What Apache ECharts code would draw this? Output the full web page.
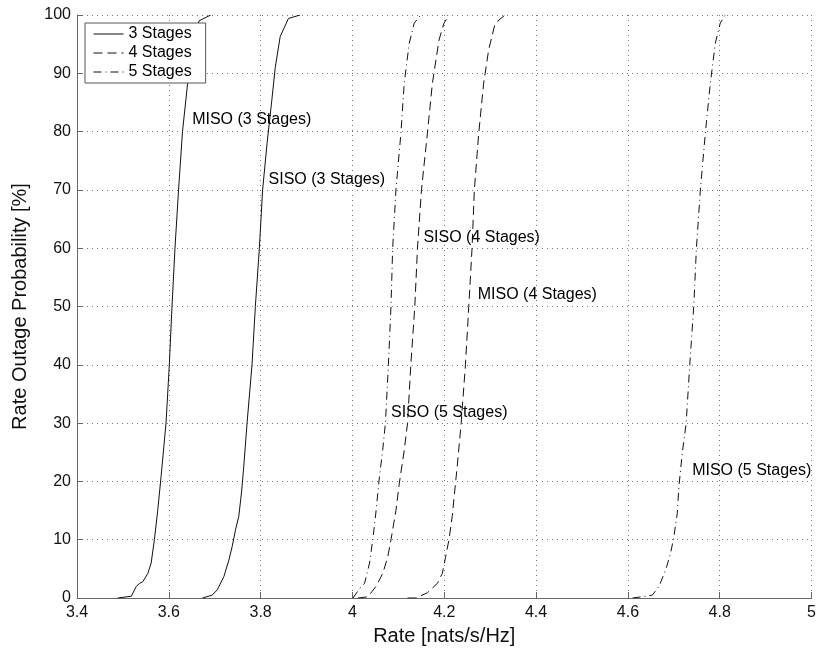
<!DOCTYPE html>
<html>
<head>
<meta charset="utf-8">
<script src="https://cdn.jsdelivr.net/npm/echarts@6/dist/echarts.min.js"></script>
<style>
html,body{margin:0;padding:0;background:#fff;}
#chart{width:819px;height:654px;}
</style>
</head>
<body>
<div id="chart"></div>
<script>
// ---- Data ----
var xTicks = [3.4, 3.6, 3.8, 4.0, 4.2, 4.4, 4.6, 4.8, 5.0];
var yTicks = [0, 10, 20, 30, 40, 50, 60, 70, 80, 90, 100];

var miso3Rate = [3.4886, 3.5183, 3.5291, 3.5362, 3.5434, 3.5542, 3.5615, 3.5686, 3.5758, 3.5831, 3.5939, 3.6011, 3.6069, 3.6134, 3.6212, 3.6298, 3.6406, 3.6530, 3.6659, 3.6912];
var miso3Prob = [0, 0.3, 2, 2.5, 2.8, 4.2, 6, 10, 15, 20.8, 30, 40, 50, 60, 70, 80, 88, 95, 99, 100];

var siso3Rate = [3.6731, 3.6947, 3.7055, 3.7200, 3.7308, 3.7379, 3.7453, 3.7524, 3.7582, 3.7632, 3.7704, 3.7812, 3.7885, 3.7972, 3.8043, 3.8140, 3.8244, 3.8318, 3.8426, 3.8605, 3.8859];
var siso3Prob = [0, 0.5, 1.4, 3.7, 6.5, 8.8, 11.7, 14, 18, 22.5, 30, 40, 50, 60, 70, 78, 85.4, 91, 96.3, 99.4, 100];

var siso4Rate = [4.0119, 4.0335, 4.0515, 4.0659, 4.0768, 4.0839, 4.0947, 4.1021, 4.1129, 4.1200, 4.1271, 4.1358, 4.1416, 4.1503, 4.1632, 4.1741, 4.1885, 4.1994, 4.2102];
var siso4Prob = [0, 0.2, 2, 4.2, 7, 10, 15, 19.7, 25.4, 30, 40, 50, 60, 70, 79.7, 88.3, 95.7, 98.6, 100];

var miso4Rate = [4.1200, 4.1379, 4.1632, 4.1849, 4.1957, 4.2028, 4.2102, 4.2173, 4.2223, 4.2281, 4.2368, 4.2461, 4.2534, 4.2605, 4.2655, 4.2750, 4.2858, 4.2966, 4.3109, 4.3325];
var miso4Prob = [0, 0, 0.9, 2.5, 4.2, 7, 10, 14, 18, 22.5, 30, 40, 50, 60, 70, 79.7, 88.3, 94, 98.6, 100];

var siso5Rate = [4.0011, 4.0190, 4.0264, 4.0372, 4.0443, 4.0515, 4.0588, 4.0659, 4.0718, 4.0783, 4.0839, 4.0876, 4.0947, 4.1055, 4.1128, 4.1236, 4.1345, 4.1488];
var siso5Prob = [0, 2, 2.5, 6, 10, 15, 20.8, 25.4, 30, 40, 50, 60, 70, 79.7, 88.3, 95.1, 98.6, 100];

var miso5Rate = [4.6102, 4.6389, 4.6534, 4.6677, 4.6822, 4.6930, 4.7001, 4.7075, 4.7109, 4.7183, 4.7269, 4.7347, 4.7434, 4.7492, 4.7578, 4.7686, 4.7795, 4.7903, 4.8011, 4.8119];
var miso5Prob = [0, 0.3, 0.5, 2, 4.8, 7.7, 10.5, 14.5, 19, 24.8, 30, 40, 50, 60, 70, 79.7, 88.3, 95.1, 98.6, 100];

var legendNames = ['3 Stages', '4 Stages', '5 Stages'];
var labelTexts = ['MISO (3 Stages)', 'SISO (3 Stages)', 'SISO (4 Stages)', 'MISO (4 Stages)', 'SISO (5 Stages)', 'MISO (5 Stages)'];
var labelRate = [3.6508, 3.8173, 4.1546, 4.2729, 4.0839, 4.7399];
var labelProb = [82.0, 71.7, 61.75, 52.0, 31.8, 21.9];

var xAxisTitle = 'Rate [nats/s/Hz]';
var yAxisTitle = 'Rate Outage Probability [%]';

// ---- Build ----
function pairs(xs, ys) { return xs.map(function (x, i) { return [x, ys[i]]; }); }

var FONT = '"Liberation Sans", Arial, Helvetica, sans-serif';
var lineColor = '#111';
var dashed = [9, 5];
var dashdot = [8, 4, 1, 4];

function lineSeries(name, data, type) {
  return {
    name: name, type: 'line', data: data, symbol: 'none', showSymbol: false,
    smooth: false, animation: false, silent: true,
    lineStyle: { color: lineColor, width: 1, type: type },
    itemStyle: { color: lineColor }
  };
}

var series = [
  lineSeries(legendNames[0], pairs(miso3Rate, miso3Prob), 'solid'),
  lineSeries(legendNames[1], pairs(siso4Rate, siso4Prob), dashed),
  lineSeries(legendNames[2], pairs(siso5Rate, siso5Prob), dashdot),
  lineSeries(legendNames[0], pairs(siso3Rate, siso3Prob), 'solid'),
  lineSeries(legendNames[1], pairs(miso4Rate, miso4Prob), dashed),
  lineSeries(legendNames[2], pairs(miso5Rate, miso5Prob), dashdot)
];

// annotation labels
series.push({
  name: 'annotations',
  type: 'scatter', silent: true, animation: false,
  symbolSize: 0,
  itemStyle: { opacity: 1, color: '#000' },
  data: labelTexts.map(function (t, i) { return { value: [labelRate[i], labelProb[i]], name: t }; }),
  label: {
    show: true, position: 'right', distance: 0,
    formatter: function (p) { return p.name; },
    color: '#000', fontFamily: FONT, fontSize: 16
  },
  z: 5
});

var chart = echarts.init(document.getElementById('chart'), null, { renderer: 'canvas' });
chart.setOption({
  animation: false,
  backgroundColor: '#fff',
  textStyle: { fontFamily: FONT },
  grid: { left: 77, right: 2, top: 15, bottom: 56, containLabel: false },
  legend: {
    show: true,
    data: legendNames,
    orient: 'vertical',
    left: 85, top: 23,
    itemWidth: 30, itemHeight: 16, itemGap: 3,
    padding: [3, 14, 3, 8],
    backgroundColor: '#fff',
    borderColor: '#555', borderWidth: 1,
    itemStyle: { opacity: 0 },
    lineStyle: { width: 1, color: '#111' },
    textStyle: { fontFamily: FONT, fontSize: 16, color: '#000' },
    selectedMode: false,
    z: 10
  },
  xAxis: {
    type: 'value', min: 3.4, max: 5.0, interval: 0.2,
    name: xAxisTitle, nameLocation: 'middle', nameGap: 28,
    nameTextStyle: { fontFamily: FONT, fontSize: 20, color: '#111' },
    axisLine: { show: true, lineStyle: { color: '#666', width: 1 } },
    axisTick: { show: true, inside: true, length: 6, lineStyle: { color: '#666' } },
    axisLabel: { fontFamily: FONT, fontSize: 16, color: '#111', margin: 7,
      formatter: function (v) { return String(Math.round(v * 10) / 10); } },
    splitLine: { show: true, lineStyle: { color: '#777', width: 1, type: [1, 4] } }
  },
  yAxis: {
    type: 'value', min: 0, max: 100, interval: 10,
    name: yAxisTitle, nameLocation: 'middle', nameGap: 47,
    nameTextStyle: { fontFamily: FONT, fontSize: 20, color: '#111' },
    axisLine: { show: true, lineStyle: { color: '#666', width: 1 } },
    axisTick: { show: true, inside: true, length: 6, lineStyle: { color: '#666' } },
    axisLabel: { fontFamily: FONT, fontSize: 16, color: '#111', margin: 6 },
    splitLine: { show: true, lineStyle: { color: '#777', width: 1, type: [1, 4] } }
  },
  series: series
});
</script>
</body>
</html>
